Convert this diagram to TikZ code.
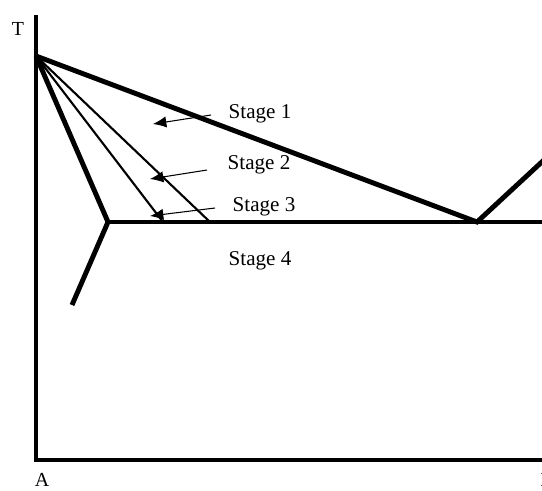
\documentclass[tikz,border=0pt]{standalone}
\usepackage{fontspec}
\setmainfont{Liberation Serif}
\usetikzlibrary{arrows.meta}

\tikzset{
		main/.style={black, line width=4.2pt, line join=miter},
		second/.style={black, line width=1.8pt},
		arrow/.style={-{Latex[length=4mm,width=3.4mm]}, line width=0.9pt},
		stage/.style={font=\fontsize{18}{20}\selectfont, inner sep=0pt},
		axislabel/.style={font=\fontsize{17}{19}\selectfont, inner sep=0pt}
	}

\begin{document}
\begin{tikzpicture}[x=0.03cm,y=-0.03cm]
\useasboundingbox (0,0) rectangle (542,490);
\clip (0,0) rectangle (542,490);

\coordinate (top) at (36,15);
\coordinate (melt) at (36,56);
\coordinate (origin) at (36,460);
\coordinate (right) at (545,460);
\coordinate (eut) at (477,222);
\coordinate (liqB) at (545,159);
\coordinate (sol) at (108,222);
\coordinate (solv) at (72,305);
\coordinate (tieA) at (163,222);
\coordinate (tieB) at (210,222);
\coordinate (eutR) at (545,222);

\node (T) at (18,29) [axislabel] {T};
\node (A) at (42,480) [axislabel] {A};
\node (B) at (547,480) [axislabel] {B};

% axes
\draw [main] (top) -- (origin) -- (right);

% phase boundaries
\draw [main] (melt) -- (eut) -- (liqB);
\draw [main] (melt) -- (sol) -- (solv);
\draw [main] (sol) -- (eutR);
\draw [second] (melt) -- (tieA);
\draw [second] (melt) -- (tieB);

\node (s1) at (260,114) [stage] {Stage 1};
\node (s2) at (259,165) [stage] {Stage 2};
\node (s3) at (264,207) [stage] {Stage 3};
\node (s4) at (260,261) [stage] {Stage 4};

\coordinate (a1) at (211,115);
\coordinate (a2) at (207,170);
\coordinate (a3) at (215,208);
\coordinate (b1) at (153,124);
\coordinate (b2) at (150,179);
\coordinate (b3) at (150,216);

\draw [arrow] (a1) to (b1);
\draw [arrow] (a2) to (b2);
\draw [arrow] (a3) to (b3);

\end{tikzpicture}
\end{document}
